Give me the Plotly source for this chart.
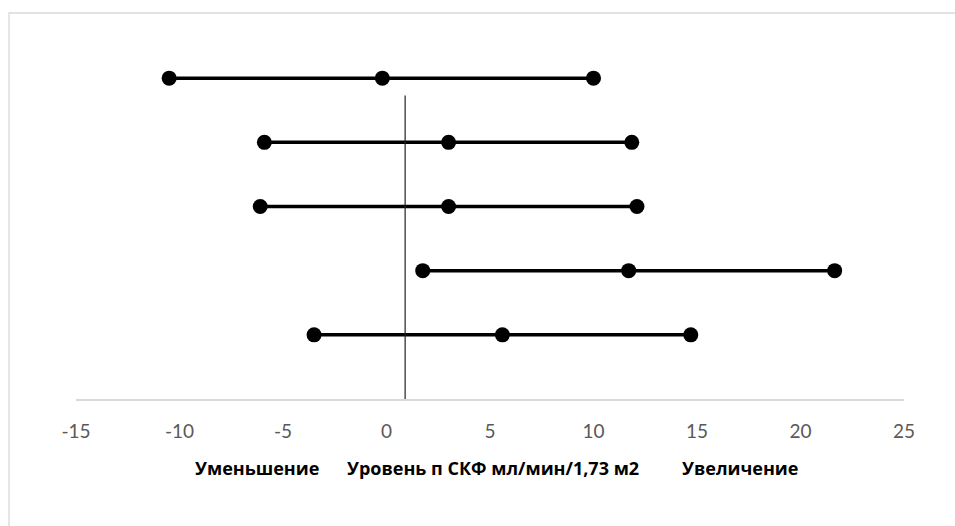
import plotly.graph_objects as go

# Interval rows: lower bound, central value, upper bound (GFR change, ml/min/1.73 m2)
row_y = [5, 4, 3, 2, 1]
lower = [-10.5, -5.9, -6.1, 1.75, -3.5]
center = [-0.2, 3.0, 3.0, 11.7, 5.6]
upper = [10.0, 11.85, 12.1, 21.65, 14.7]

# Reference line
ref_x = 0.9
ref_y = [0, 4.73]

x_ticks = [-15, -10, -5, 0, 5, 10, 15, 20, 25]
x_tick_text = ["-15", "-10", "-5", "0", "5", "10", "15", "20", "25"]

W, H = 955, 526
ML, MR, MT, MB = 76, 51, 14, 127

fig = go.Figure()

for yv, lo, c, hi in zip(row_y, lower, center, upper):
    fig.add_trace(go.Scatter(
        x=[lo, c, hi], y=[yv, yv, yv],
        mode="lines+markers",
        line=dict(color="black", width=3.5),
        marker=dict(color="black", size=15),
        showlegend=False, hoverinfo="x",
    ))

fig.add_trace(go.Scatter(
    x=[ref_x, ref_x], y=ref_y, mode="lines",
    line=dict(color="#222222", width=1.2),
    showlegend=False, hoverinfo="skip",
))

def px_to_paper_x(px):
    return (px - ML) / (W - ML - MR)

def px_to_paper_y(py):
    return (H - MB - py) / (H - MT - MB)

# chart frame
fig.add_shape(type="rect", xref="paper", yref="paper",
              x0=px_to_paper_x(9), x1=px_to_paper_x(1000),
              y0=px_to_paper_y(600), y1=px_to_paper_y(13),
              line=dict(color="#d9d9d9", width=1.3), layer="below")

label_font = dict(family="'Open Sans', sans-serif", size=18, color="black")
labels = [("<b>Уменьшение</b>", 257),
          ("<b>Уровень п СКФ мл/мин/1,73 м2</b>", 493),
          ("<b>Увеличение</b>", 740)]
for txt, cx in labels:
    fig.add_annotation(text=txt, xref="paper", yref="paper",
                       x=px_to_paper_x(cx), y=px_to_paper_y(468),
                       xanchor="center", yanchor="middle",
                       showarrow=False, font=label_font)

fig.update_xaxes(
    range=[-15, 25], tickvals=x_ticks, ticktext=x_tick_text,
    showgrid=False, zeroline=False,
    showline=True, linecolor="#d9d9d9", linewidth=1.5,
    ticks="", tickfont=dict(family="Lato, 'Open Sans', sans-serif", size=19, color="#595959"),
    ticklabelstandoff=14,
)
fig.update_yaxes(range=[0, 6], visible=False)

fig.update_layout(
    width=W, height=H,
    margin=dict(l=ML, r=MR, t=MT, b=MB),
    plot_bgcolor="white", paper_bgcolor="white",
)

fig.write_html("out.html")
